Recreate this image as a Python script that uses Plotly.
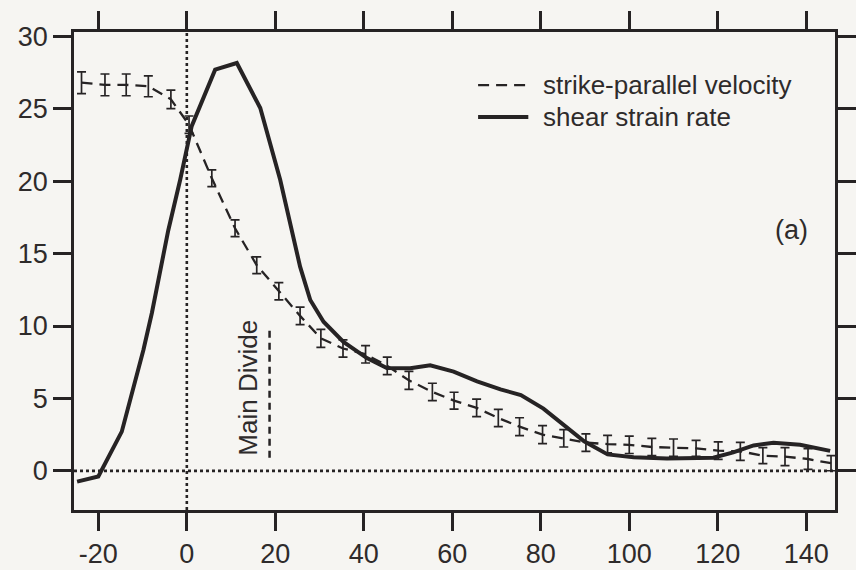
import plotly.graph_objects as go

# ---- data ----
shear_x = [-24.8, -20.0, -14.7, -12.1, -9.8, -7.9, -6.0, -4.2, -1.5, 1.1, 6.4, 11.3, 16.6, 21.1,
           25.6, 27.9, 30.9, 35.4, 40.7, 45.2, 50.5, 55.0, 60.3, 65.6, 70.9, 75.5, 80.6, 85.3,
           89.8, 95.1, 101.0, 108.5, 119.0, 123.5, 128.1, 132.6, 138.6, 145.4]
shear_y = [-0.74, -0.39, 2.71, 5.6, 8.36, 10.9, 13.9, 16.6, 20.1, 23.8, 27.7, 28.16, 25.05, 20.1,
           14.1, 11.8, 10.3, 8.9, 7.79, 7.1, 7.08, 7.29, 6.85, 6.18, 5.63, 5.23, 4.3, 3.17,
           2.04, 1.14, 0.94, 0.86, 0.91, 1.28, 1.76, 1.94, 1.81, 1.38]

vel_x = [-23.8, -18.5, -13.7, -8.7, -3.6, 0.5, 5.65, 10.9, 15.8, 20.8, 25.6, 30.3, 35.3, 40.4,
         45.3, 50.2, 55.5, 60.4, 65.5, 70.4, 75.2, 80.4, 85.2, 90.2, 95.1, 100.0, 105.1, 110.0,
         115.1, 120.1, 125.1, 130.2, 135.2, 140.4, 145.6]
vel_y = [26.8, 26.65, 26.65, 26.55, 25.65, 23.9, 20.2, 16.75, 14.2, 12.4, 10.7, 9.15, 8.45, 8.05,
         7.25, 6.25, 5.45, 4.85, 4.35, 3.65, 3.05, 2.5, 2.25, 1.95, 1.85, 1.8, 1.65, 1.6,
         1.55, 1.4, 1.35, 1.05, 0.98, 0.82, 0.53]
vel_err = [0.75, 0.75, 0.75, 0.72, 0.64, 0.6, 0.58, 0.58, 0.58, 0.6, 0.6, 0.62, 0.6, 0.6,
           0.6, 0.62, 0.6, 0.58, 0.6, 0.6, 0.62, 0.62, 0.6, 0.6, 0.6, 0.6, 0.6, 0.6,
           0.55, 0.6, 0.62, 0.55, 0.62, 0.72, 0.52]

x_ticks = [-20, 0, 20, 40, 60, 80, 100, 120, 140]
y_ticks = [0, 5, 10, 15, 20, 25, 30]

divide_x = [18.7, 18.7]
divide_y = [0.9, 9.9]

legend_labels = ["strike-parallel velocity", "shear strain rate"]

INK = "#262324"
TXT = "#2e2b2b"
BG = "#f6f5f2"
FONT = "Liberation Sans, Arial, Helvetica, sans-serif"
FS = 27

VEL_LINE = dict(color=INK, width=2.3, dash="11px,7px")
SHEAR_LINE = dict(color=INK, width=4)

fig = go.Figure()

fig.add_trace(go.Scatter(
    x=vel_x, y=vel_y, mode="lines", name=legend_labels[0], showlegend=False,
    line=VEL_LINE,
    error_y=dict(type="data", array=vel_err, visible=True, color=INK, thickness=1.7, width=4.5),
))
fig.add_trace(go.Scatter(
    x=shear_x, y=shear_y, mode="lines", name=legend_labels[1], showlegend=False,
    line=SHEAR_LINE,
))

# Main Divide marker
fig.add_trace(go.Scatter(
    x=divide_x, y=divide_y, mode="lines", showlegend=False, hoverinfo="skip",
    line=dict(color=INK, width=2.5, dash="7px,5px"),
))

# dotted reference lines
fig.add_shape(type="line", xref="paper", yref="y", x0=0, x1=1, y0=0, y1=0,
              line=dict(color=INK, width=2.6, dash="3px,3px"), layer="below")
fig.add_shape(type="line", xref="x", yref="paper", x0=0, x1=0, y0=0, y1=1,
              line=dict(color=INK, width=2.6, dash="3px,3px"), layer="below")

# legend (drawn in paper space)
leg_rows = [0.889, 0.822]
leg_styles = [VEL_LINE, SHEAR_LINE]
for row_y, lab, sty in zip(leg_rows, legend_labels, leg_styles):
    fig.add_shape(type="line", xref="paper", yref="paper", x0=0.531, x1=0.597,
                  y0=row_y, y1=row_y, line=sty)
    fig.add_annotation(x=0.614, y=row_y, xref="paper", yref="paper", text=lab,
                       xanchor="left", yanchor="middle", showarrow=False,
                       font=dict(family=FONT, size=FS - 1, color=TXT))

fig.add_annotation(x=13.9, y=5.77, xref="x", yref="y", text="Main Divide", textangle=-90,
                   xanchor="center", yanchor="middle",
                   showarrow=False, font=dict(family=FONT, size=FS - 1, color=TXT))
fig.add_annotation(x=0.943, y=0.586, xref="paper", yref="paper", text="(a)",
                   xanchor="center", yanchor="middle",
                   showarrow=False, font=dict(family=FONT, size=FS, color=TXT))

axis_common = dict(showline=True, linecolor=INK, linewidth=2.5, mirror="ticks",
                   ticks="outside", ticklen=18, tickwidth=2.5, tickcolor=INK,
                   showgrid=False, zeroline=False, automargin=False,
                   tickfont=dict(family=FONT, size=FS, color=TXT))

fig.update_xaxes(range=[-25.5, 146.5], tickvals=x_ticks, ticktext=[str(v) for v in x_ticks],
                 **axis_common)
fig.update_yaxes(range=[-2.7, 30.3], tickvals=y_ticks, ticktext=[str(v) for v in y_ticks],
                 **axis_common)

fig.update_layout(
    width=856, height=570, autosize=False,
    margin=dict(l=74, r=21, t=32, b=60, pad=0),
    paper_bgcolor=BG, plot_bgcolor=BG,
    font=dict(family=FONT, size=FS, color=TXT),
    showlegend=False,
)

fig.write_html("out.html")
